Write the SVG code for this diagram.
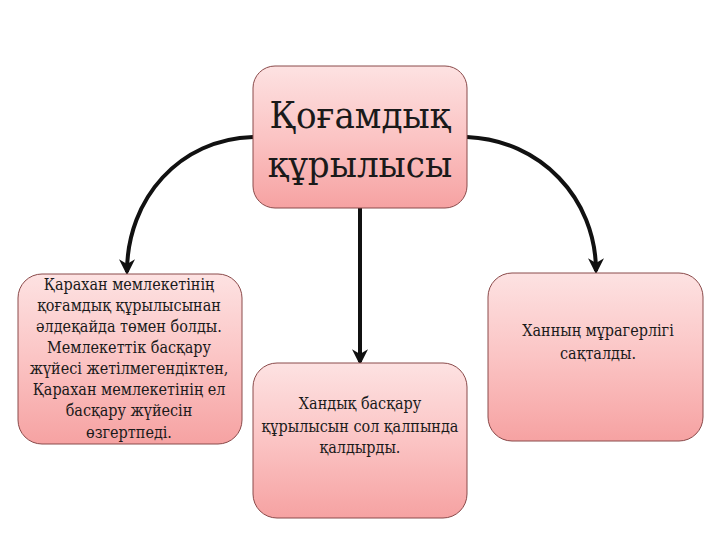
<svg xmlns="http://www.w3.org/2000/svg" width="720" height="540" viewBox="0 0 720 540">
<style>
.box{stroke:#8a4a4a;stroke-width:1;fill:url(#g)}
.t{font-family:"DejaVu Serif Condensed","DejaVu Serif","Liberation Serif",serif;fill:#1a1a1a;text-anchor:middle}
.s{font-size:16px}
.big{font-size:38px}
.c{fill:none;stroke:#111;stroke-width:4;marker-end:url(#ah)}
</style>
<defs>
<linearGradient id="g" x1="0" y1="0" x2="0" y2="1">
<stop offset="0" stop-color="#fde2e2"/>
<stop offset="0.5" stop-color="#fbc4c4"/>
<stop offset="1" stop-color="#f6a2a2"/>
</linearGradient>
<marker id="ah" viewBox="0 0 10 10" refX="8" refY="5" markerWidth="4" markerHeight="4" orient="auto" markerUnits="strokeWidth">
<path d="M0,0 L10,5 L0,10 L3,5 z" fill="#111"/>
</marker>
</defs>
<rect width="720" height="540" fill="#fff"/>
<g id="connectors">
<path class="c" d="M253,137 C180,139 127,198 127,272"/>
<path class="c" d="M467,137 C540,140 596,198 596,271"/>
<path class="c" d="M360,208 L360,362"/>
</g>
<g id="n0">
<rect class="box" x="253" y="66" width="214" height="142" rx="22"/>
<text class="t big" x="360" y="128">Қоғамдық</text>
<text class="t big" x="360" y="177">құрылысы</text>
</g>
<g id="n1">
<rect class="box" x="18" y="274" width="224" height="170" rx="24"/>
<text class="t s" x="129" y="290">Қарахан мемлекетінің</text>
<text class="t s" x="129" y="311">қоғамдық құрылысынан</text>
<text class="t s" x="129" y="332">әлдеқайда төмен болды.</text>
<text class="t s" x="129" y="353">Мемлекеттік басқару</text>
<text class="t s" x="129" y="374">жүйесі жетілмегендіктен,</text>
<text class="t s" x="129" y="395">Қарахан мемлекетінің ел</text>
<text class="t s" x="129" y="416">басқару жүйесін</text>
<text class="t s" x="129" y="438">өзгертпеді.</text>
</g>
<g id="n2">
<rect class="box" x="253" y="363" width="214" height="155" rx="24"/>
<text class="t s" x="360" y="409">Хандық басқару</text>
<text class="t s" x="360" y="432">құрылысын сол қалпында</text>
<text class="t s" x="360" y="453">қалдырды.</text>
</g>
<g id="n3">
<rect class="box" x="488" y="273" width="215" height="168" rx="24"/>
<text class="t s" x="598" y="336">Ханның мұрагерлігі</text>
<text class="t s" x="598" y="359">сақталды.</text>
</g>
</svg>
